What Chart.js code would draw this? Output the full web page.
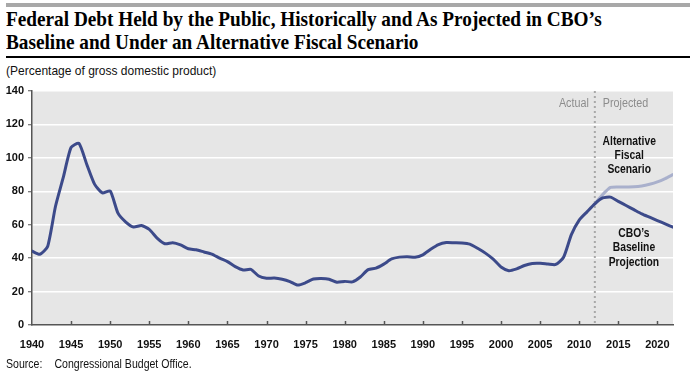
<!DOCTYPE html>
<html>
<head>
<meta charset="utf-8">
<script src="https://cdn.jsdelivr.net/npm/chart.js@4.4.1/dist/chart.umd.min.js"></script>
<style>
  body { margin: 0; background: #fff; }
  #wrap { position: relative; width: 694px; height: 372px; overflow: hidden; }
  #topbar { position: absolute; left: 6px; top: 3px; width: 684px; height: 4px; background: #a8a8a8; }
  #title { position: absolute; left: 6px; top: 7px; font-family: "Liberation Serif", serif; font-weight: bold;
           font-size: 22px; line-height: 23px; color: #000; transform-origin: 0 0; transform: scaleX(0.875); white-space: nowrap; }
  #rule { position: absolute; left: 6px; top: 56px; width: 684px; height: 1.5px; background: #000; }
  #sub { position: absolute; left: 6px; top: 63px; font-family: "Liberation Sans", sans-serif;
         font-size: 13.5px; color: #111; transform-origin: 0 0; transform: scaleX(0.89); white-space: nowrap; }
  #source { position: absolute; left: 6px; top: 357px; font-family: "Liberation Sans", sans-serif;
            font-size: 12px; color: #111; transform-origin: 0 0; transform: scaleX(0.88); white-space: nowrap; }
  #source span { display: inline-block; width: 55px; }
  canvas { position: absolute; left: 0; top: 0; }
</style>
</head>
<body>
<div id="wrap">
  <div id="topbar"></div>
  <div id="title">Federal Debt Held by the Public, Historically and As Projected in CBO’s<br>Baseline and Under an Alternative Fiscal Scenario</div>
  <div id="rule"></div>
  <div id="sub">(Percentage of gross domestic product)</div>
  <canvas id="myChart" width="694" height="372"></canvas>
  <div id="source"><span>Source:</span>Congressional Budget Office.</div>
</div>
<script>
//? DATOS DEL GRAFICO

const years = [];
for (let y = 1940; y <= 2022; y++) years.push(y);

const baselineValues = [
  44.2, 42.3, 47.0, 70.9, 88.3, 106.2, 108.7, 96.2, 84.3, 79.0,
  80.2, 66.9, 61.6, 58.6, 59.5, 57.2, 52.0, 48.6, 49.2, 47.9,
  45.6, 45.0, 43.7, 42.4, 40.0, 37.9, 34.9, 32.9, 33.3, 29.3,
  28.0, 28.1, 27.4, 26.0, 23.9, 25.3, 27.5, 27.8, 27.4, 25.6,
  26.1, 25.8, 28.7, 33.1, 34.0, 36.4, 39.5, 40.6, 40.9, 40.5,
  42.0, 45.3, 48.1, 49.3, 49.2, 49.1, 48.4, 45.9, 43.0, 39.4,
  34.7, 32.5, 33.6, 35.6, 36.8, 36.9, 36.5, 36.2, 40.5, 54.1,
  62.8, 67.7, 72.5, 76.0, 76.5, 74.0, 71.5, 69.0, 66.5, 64.5,
  62.5, 60.5, 58.5
];

const altYears = [2012, 2013, 2014, 2015, 2016, 2017, 2018, 2019, 2020, 2021, 2022];
const altValues = [72.5, 78.0, 82.3, 82.6, 82.6, 82.7, 83.2, 84.2, 85.6, 87.6, 90.0];

const splitYear = 2012;
const yTicks = [0, 20, 40, 60, 80, 100, 120, 140];

const baseColor = "#3c4a8a";
const altColor = "#a9b0cc";
const sans = '"Liberation Sans", Arial, sans-serif';

//? FUNCION QUE DIBUJA TEXTO ANGOSTO

function textoAngosto(ctx, t, x, y, escala) {
  ctx.save();
  ctx.translate(x, y);
  ctx.scale(escala, 1);
  ctx.fillText(t, 0, 0);
  ctx.restore();
}

//? PLUGIN: FONDO, LINEA PUNTEADA, MARCAS Y ETIQUETAS

const decoraciones = {
  id: "decoraciones",
  beforeDraw(chart) {
    const { ctx, chartArea: a } = chart;
    ctx.save();
    ctx.fillStyle = "#e6e6e6";
    ctx.fillRect(a.left, a.top, a.right - a.left, a.bottom - a.top);
    ctx.restore();
  },
  beforeDatasetsDraw(chart) {
    const { ctx, chartArea: a, scales: { x } } = chart;
    const px = x.getPixelForValue(splitYear);
    ctx.save();
    ctx.strokeStyle = "#a8a8a8";
    ctx.lineWidth = 2;
    ctx.setLineDash([2, 3]);
    ctx.beginPath();
    ctx.moveTo(px, a.top);
    ctx.lineTo(px, a.bottom);
    ctx.stroke();
    ctx.restore();
  },
  afterDatasetsDraw(chart) {
    const { ctx, chartArea: a, scales: { x, y } } = chart;
    ctx.save();
    // marcas del eje x hacia arriba
    ctx.strokeStyle = "#555";
    ctx.lineWidth = 1.5;
    for (let yr = 1945; yr <= 2020; yr += 5) {
      const px = Math.round(x.getPixelForValue(yr)) + 0.5;
      ctx.beginPath();
      ctx.moveTo(px, a.bottom);
      ctx.lineTo(px, a.bottom - 4);
      ctx.stroke();
    }
    const px = x.getPixelForValue(splitYear);
    ctx.textBaseline = "middle";
    ctx.fillStyle = "#8c8c8c";
    ctx.font = "12.5px " + sans;
    ctx.textAlign = "right";
    textoAngosto(ctx, "Actual", px - 6, y.getPixelForValue(132.5), 0.86);
    ctx.textAlign = "left";
    textoAngosto(ctx, "Projected", px + 8, y.getPixelForValue(132.5), 0.86);

    ctx.fillStyle = "#111";
    ctx.font = "bold 12px " + sans;
    ctx.textAlign = "center";
    const cx1 = x.getPixelForValue(2016.4);
    ["Alternative", "Fiscal", "Scenario"].forEach((t, i) => {
      textoAngosto(ctx, t, cx1, y.getPixelForValue(109.5 - i * 8.3), 0.86);
    });
    const cx2 = x.getPixelForValue(2017.0);
    ["CBO’s", "Baseline", "Projection"].forEach((t, i) => {
      textoAngosto(ctx, t, cx2, y.getPixelForValue(54.5 - i * 8.5), 0.86);
    });
    ctx.restore();
  }
};

//? CONFIGURACION DEL GRAFICO

const config = {
  type: "line",
  data: {
    datasets: [
      {
        label: "CBO's Baseline",
        data: years.map((yr, i) => ({ x: yr, y: baselineValues[i] })),
        borderColor: baseColor,
        borderWidth: 3,
        pointRadius: 0,
        tension: 0.2,
        borderJoinStyle: "round",
        borderCapStyle: "round"
      },
      {
        label: "Alternative Fiscal Scenario",
        data: altYears.map((yr, i) => ({ x: yr, y: altValues[i] })),
        borderColor: altColor,
        borderWidth: 3,
        pointRadius: 0,
        tension: 0.2,
        borderJoinStyle: "round",
        borderCapStyle: "round"
      }
    ]
  },
  options: {
    responsive: false,
    animation: false,
    layout: { padding: { top: 91, right: 21, left: 0, bottom: 0 } },
    plugins: { legend: { display: false }, tooltip: { enabled: false } },
    scales: {
      x: {
        type: "linear",
        min: 1940,
        max: 2022,
        afterFit: (s) => { s.height = 47; },
        afterBuildTicks: (s) => {
          s.ticks = [];
          for (let yr = 1940; yr <= 2020; yr += 5) s.ticks.push({ value: yr });
        },
        ticks: {
          callback: (v) => String(v),
          color: "#111",
          font: { family: sans, size: 11, weight: "bold" },
          padding: 5,
          maxRotation: 0,
          autoSkip: false
        },
        grid: { display: false },
        border: { display: true, color: "#555", width: 1.5 }
      },
      y: {
        min: 0,
        max: 140,
        afterFit: (s) => { s.width = 32; },
        afterBuildTicks: (s) => { s.ticks = yTicks.map((v) => ({ value: v })); },
        ticks: {
          color: "#111",
          font: { family: sans, size: 11, weight: "bold" },
          padding: 4
        },
        grid: { color: "#ffffff", lineWidth: 1.5, tickLength: 4, tickColor: "#555", tickWidth: 1 },
        border: { display: true, color: "#555", width: 1.5 }
      }
    }
  },
  plugins: [decoraciones]
};

const myChart = new Chart("myChart", config);
</script>
</body>
</html>
